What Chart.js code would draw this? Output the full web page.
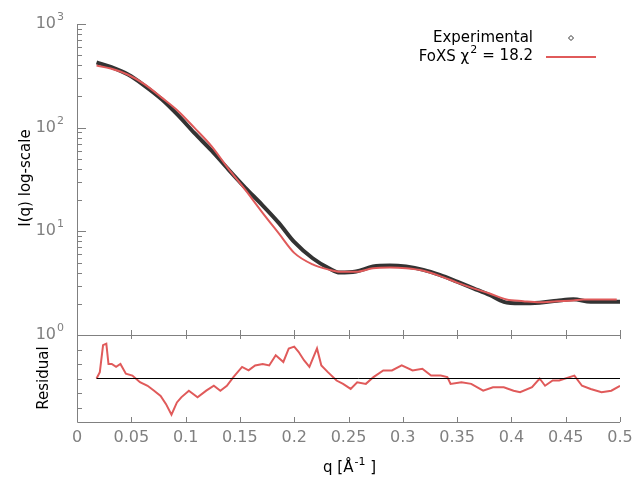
<!DOCTYPE html>
<html>
<head>
<meta charset="utf-8">
<script src="https://cdn.jsdelivr.net/npm/chart.js@4"></script>
<style>
  body { margin: 0; background: #fff; }
  #wrap { position: relative; width: 640px; height: 480px; }
  canvas { position: absolute; left: 0; top: 0; }
</style>
</head>
<body>
<div id="wrap">
  <canvas id="resid" width="640" height="480"></canvas>
  <canvas id="main" width="640" height="480"></canvas>
</div>
<script>
// dados
const expQ = [0.018, 0.031, 0.047, 0.062, 0.078, 0.093, 0.108, 0.124, 0.139, 0.155, 0.17, 0.186, 0.2, 0.217, 0.232, 0.242, 0.257, 0.2725, 0.288, 0.303, 0.319, 0.334, 0.35, 0.365, 0.38, 0.393, 0.408, 0.426, 0.442, 0.457, 0.473, 0.488, 0.5];
const expI = [427, 385, 325, 255, 188, 132, 89, 60, 40, 26.3, 18.2, 12, 7.9, 5.5, 4.4, 4.0, 4.1, 4.57, 4.68, 4.57, 4.25, 3.8, 3.27, 2.82, 2.43, 2.09, 2.02, 2.05, 2.14, 2.21, 2.09, 2.09, 2.09];
const fitQ = [0.018, 0.031, 0.047, 0.062, 0.078, 0.093, 0.108, 0.124, 0.139, 0.155, 0.17, 0.186, 0.2, 0.217, 0.232, 0.242, 0.257, 0.2725, 0.288, 0.303, 0.319, 0.334, 0.35, 0.365, 0.38, 0.3955, 0.411, 0.426, 0.442, 0.457, 0.466, 0.497];
const fitI = [398, 372, 324, 263, 195, 145, 100, 66, 40.7, 25.1, 15.5, 9.5, 6.2, 4.8, 4.27, 4.08, 4.07, 4.4, 4.47, 4.4, 4.17, 3.72, 3.2, 2.82, 2.51, 2.2, 2.12, 2.07, 2.12, 2.15, 2.2, 2.2];
const resQ = [0.018, 0.021, 0.024, 0.027, 0.029, 0.032, 0.036, 0.040, 0.045, 0.051, 0.058, 0.065, 0.071, 0.077, 0.082, 0.087, 0.092, 0.096, 0.103, 0.111, 0.119, 0.126, 0.132, 0.138, 0.144, 0.152, 0.158, 0.164, 0.171, 0.177, 0.183, 0.190, 0.195, 0.200, 0.204, 0.209, 0.214, 0.221, 0.225, 0.231, 0.239, 0.245, 0.252, 0.258, 0.266, 0.273, 0.282, 0.290, 0.299, 0.309, 0.318, 0.326, 0.335, 0.341, 0.344, 0.354, 0.363, 0.374, 0.383, 0.393, 0.402, 0.408, 0.419, 0.426, 0.431, 0.438, 0.444, 0.458, 0.465, 0.473, 0.483, 0.492, 0.5];
const resV = [0, 0.44, 2.3, 2.4, 1.0, 1.0, 0.8, 1.0, 0.33, 0.2, -0.26, -0.5, -0.84, -1.2, -1.77, -2.5, -1.65, -1.3, -0.84, -1.3, -0.84, -0.5, -0.84, -0.5, 0.1, 0.8, 0.56, 0.9, 1.0, 0.9, 1.6, 1.14, 2.07, 2.2, 1.84, 1.26, 0.8, 2.07, 0.9, 0.44, -0.14, -0.37, -0.72, -0.26, -0.37, 0.1, 0.56, 0.56, 0.9, 0.56, 0.67, 0.2, 0.2, 0.1, -0.37, -0.26, -0.37, -0.84, -0.6, -0.6, -0.84, -0.95, -0.6, 0, -0.5, -0.14, -0.14, 0.2, -0.5, -0.72, -0.95, -0.84, -0.5];
const xTicks = [0, 0.05, 0.1, 0.15, 0.2, 0.25, 0.3, 0.35, 0.4, 0.45, 0.5];
const yDecades = [0, 1, 2, 3];
const resTicks = [-2, -1, 0, 1, 2];

const GREY = '#808080';
const FONT = '"DejaVu Sans", sans-serif';
const pts = (xs, ys) => xs.map((x, i) => ({ x: x, y: ys[i] }));

// desenha eixos, ticks e textos do painel principal
const mainAxes = {
    id: 'mainAxes',
    afterDraw(chart) {
        const ctx = chart.ctx, a = chart.chartArea;
        const xs = chart.scales.x, ys = chart.scales.y;
        ctx.save();
        ctx.strokeStyle = GREY;
        ctx.lineWidth = 1;
        ctx.beginPath();
        ctx.moveTo(a.left + 0.5, a.top);
        ctx.lineTo(a.left + 0.5, a.bottom);
        // ticks no eixo y (log)
        yDecades.forEach(d => {
            for (let m = 1; m <= 9; m++) {
                const v = m * Math.pow(10, d);
                if (v > 1000) break;
                const py = Math.round(ys.getPixelForValue(v)) + 0.5;
                ctx.moveTo(a.left, py);
                ctx.lineTo(a.left + (m === 1 ? 9 : 5), py);
            }
        });
        // ticks no eixo x
        xTicks.forEach(t => {
            const px = Math.round(xs.getPixelForValue(t)) + 0.5;
            ctx.moveTo(px, a.bottom);
            ctx.lineTo(px, a.bottom - 5);
        });
        ctx.stroke();
        // rótulos 10^n
        ctx.fillStyle = GREY;
        ctx.textBaseline = 'middle';
        yDecades.forEach(d => {
            const py = ys.getPixelForValue(Math.pow(10, d));
            ctx.font = '16px ' + FONT;
            ctx.textAlign = 'right';
            ctx.fillText('10', 56, py);
            ctx.font = '11px ' + FONT;
            ctx.textAlign = 'left';
            ctx.fillText(String(d), 57, py - 7);
        });
        // título do eixo y
        ctx.fillStyle = '#000';
        ctx.font = '15px ' + FONT;
        ctx.translate(26, 178);
        ctx.rotate(-Math.PI / 2);
        ctx.textAlign = 'center';
        ctx.fillText('I(q) log-scale', 0, 0);
        ctx.restore();

        // legenda
        ctx.save();
        ctx.fillStyle = '#000';
        ctx.font = '15px ' + FONT;
        ctx.textAlign = 'right';
        ctx.textBaseline = 'middle';
        ctx.fillText('Experimental', 533, 38);
        ctx.fillText('= 18.2', 533, 56);
        const w = ctx.measureText('= 18.2').width;
        ctx.font = '11px ' + FONT;
        ctx.fillText('2', 533 - w - 5, 50);
        ctx.font = '15px ' + FONT;
        ctx.fillText('FoXS \u03c7', 533 - w - 13, 57);
        ctx.strokeStyle = '#333';
        ctx.beginPath();
        ctx.moveTo(571, 35.5); ctx.lineTo(573.5, 38); ctx.lineTo(571, 40.5); ctx.lineTo(568.5, 38); ctx.closePath();
        ctx.stroke();
        ctx.strokeStyle = '#e05a5a';
        ctx.lineWidth = 2;
        ctx.beginPath();
        ctx.moveTo(546, 57); ctx.lineTo(596, 57);
        ctx.stroke();
        ctx.restore();
    }
};

// eixos do painel de resíduos
const residAxes = {
    id: 'residAxes',
    afterDraw(chart) {
        const ctx = chart.ctx, a = chart.chartArea;
        const xs = chart.scales.x, ys = chart.scales.y;
        ctx.save();
        ctx.strokeStyle = GREY;
        ctx.lineWidth = 1;
        ctx.beginPath();
        ctx.moveTo(a.left + 0.5, a.top + 0.5);
        ctx.lineTo(a.right, a.top + 0.5);
        ctx.moveTo(a.left + 0.5, a.top);
        ctx.lineTo(a.left + 0.5, a.bottom + 0.5);
        ctx.lineTo(a.right, a.bottom + 0.5);
        resTicks.forEach(t => {
            const py = Math.round(ys.getPixelForValue(t)) + 0.5;
            ctx.moveTo(a.left, py);
            ctx.lineTo(a.left + 5, py);
        });
        xTicks.forEach(t => {
            const px = Math.round(xs.getPixelForValue(t)) + 0.5;
            ctx.moveTo(px, a.bottom);
            ctx.lineTo(px, a.bottom - 5);
            ctx.moveTo(px, a.top);
            ctx.lineTo(px, a.top + 4);
        });
        ctx.stroke();
        ctx.fillStyle = GREY;
        ctx.font = '16px ' + FONT;
        ctx.textAlign = 'center';
        ctx.textBaseline = 'middle';
        xTicks.forEach(t => {
            ctx.fillText(String(t), xs.getPixelForValue(t), 438);
        });
        // título x
        ctx.fillStyle = '#000';
        ctx.font = '15px ' + FONT;
        ctx.textAlign = 'left';
        const s1 = 'q [\u00c5', s2 = ' ]';
        const w1 = ctx.measureText(s1).width;
        ctx.font = '11px ' + FONT;
        const w2 = ctx.measureText('-1').width;
        ctx.font = '15px ' + FONT;
        const w3 = ctx.measureText(s2).width;
        let x0 = 349 - (w1 + w2 + w3) / 2;
        ctx.fillText(s1, x0, 468);
        ctx.font = '11px ' + FONT;
        ctx.fillText('-1', x0 + w1 + 1, 462);
        ctx.font = '15px ' + FONT;
        ctx.fillText(s2, x0 + w1 + w2 + 1, 468);
        // título y
        ctx.translate(44, 378);
        ctx.rotate(-Math.PI / 2);
        ctx.textAlign = 'center';
        ctx.fillText('Residual', 0, 0);
        ctx.restore();
    }
};

new Chart(document.getElementById('main'), {
    type: 'line',
    data: {
        datasets: [
            { data: pts(fitQ, fitI), borderColor: '#e05a5a', borderWidth: 2, pointRadius: 0, cubicInterpolationMode: 'monotone' },
            { data: pts(expQ, expI), borderColor: '#333333', borderWidth: 4, pointRadius: 0, cubicInterpolationMode: 'monotone' }
        ]
    },
    options: {
        responsive: false,
        animation: false,
        layout: { padding: { left: 77, right: 20, top: 24, bottom: 145 } },
        plugins: { legend: { display: false }, tooltip: { enabled: false } },
        scales: {
            x: { type: 'linear', min: 0, max: 0.5, display: false },
            y: { type: 'logarithmic', min: 1, max: 1000, display: false }
        }
    },
    plugins: [mainAxes]
});

new Chart(document.getElementById('resid'), {
    type: 'line',
    data: {
        datasets: [
            { data: pts([0.018, 0.5], [0, 0]), borderColor: '#000', borderWidth: 1, pointRadius: 0 },
            { data: pts(resQ, resV), borderColor: '#e05a5a', borderWidth: 2, pointRadius: 0 }
        ]
    },
    options: {
        responsive: false,
        animation: false,
        layout: { padding: { left: 77, right: 20, top: 335, bottom: 58 } },
        plugins: { legend: { display: false }, tooltip: { enabled: false } },
        scales: {
            x: { type: 'linear', min: 0, max: 0.5, display: false },
            y: { type: 'linear', min: -3, max: 3, display: false }
        }
    },
    plugins: [residAxes]
});
</script>
</body>
</html>
